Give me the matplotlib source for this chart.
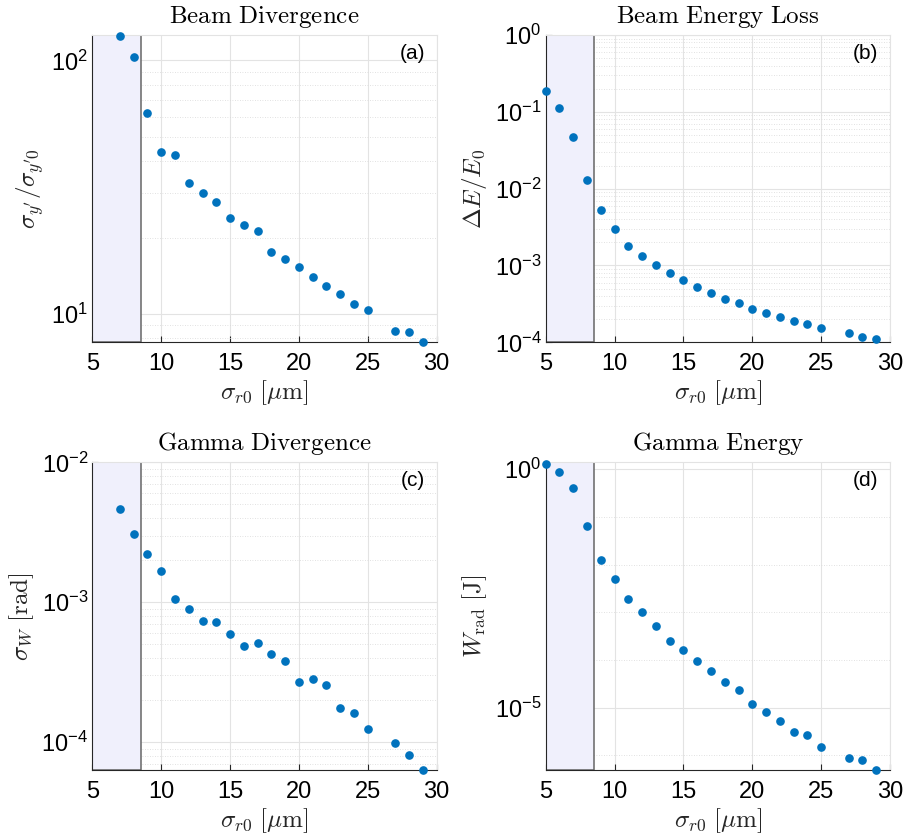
import numpy as np
import matplotlib
matplotlib.use("Agg")
import matplotlib.pyplot as plt
from matplotlib.patches import Rectangle
from matplotlib.ticker import LogLocator, FixedLocator, FuncFormatter, NullFormatter

plt.rcParams['mathtext.fontset'] = 'cm'
plt.rcParams['mathtext.rm'] = 'Liberation Sans'
plt.rcParams['mathtext.it'] = 'Liberation Sans:italic'
plt.rcParams['mathtext.bf'] = 'Liberation Sans:bold'
plt.rcParams['mathtext.sf'] = 'Liberation Sans'
plt.rcParams['font.family'] = ['Liberation Sans', 'DejaVu Sans']

# data (sigma_r0 in um)
x_a = [7, 8, 9, 10, 11, 12, 13, 14, 15, 16, 17, 18, 19, 20, 21, 22, 23, 24, 25, 27, 28, 29]
div_beam = [125, 103, 61.9, 43.7, 42.3, 32.7, 30.0, 27.7, 23.9, 22.4, 21.3, 17.6, 16.5,
            15.3, 14.0, 12.9, 12.0, 10.9, 10.4, 8.55, 8.45, 7.72]

x_b = [5, 6, 7, 8, 9, 10, 11, 12, 13, 14, 15, 16, 17, 18, 19, 20, 21, 22, 23, 24, 25, 27, 28, 29]
eloss = [0.187, 0.112, 0.0476, 0.0130, 5.25e-3, 2.97e-3, 1.77e-3, 1.34e-3, 1.01e-3, 7.87e-4,
         6.51e-4, 5.23e-4, 4.33e-4, 3.69e-4, 3.24e-4, 2.74e-4, 2.40e-4, 2.15e-4, 1.89e-4,
         1.73e-4, 1.53e-4, 1.31e-4, 1.18e-4, 1.10e-4]

x_c = [7, 8, 9, 10, 11, 12, 13, 14, 15, 16, 17, 18, 19, 20, 21, 22, 23, 24, 25, 27, 28, 29]
div_gamma = [4.67e-3, 3.06e-3, 2.20e-3, 1.68e-3, 1.06e-3, 8.96e-4, 7.39e-4, 7.20e-4, 5.97e-4,
             4.88e-4, 5.15e-4, 4.27e-4, 3.79e-4, 2.68e-4, 2.82e-4, 2.55e-4, 1.75e-4, 1.61e-4,
             1.25e-4, 9.89e-5, 8.16e-5, 6.34e-5]

x_d = [5, 6, 7, 8, 9, 10, 11, 12, 13, 14, 15, 16, 17, 18, 19, 20, 21, 22, 23, 24, 25, 27, 28, 29]
w_rad = [1.27, 0.894, 0.412, 0.0648, 0.0125, 5.08e-3, 1.90e-3, 1.02e-3, 5.25e-4, 2.50e-4,
         1.65e-4, 9.38e-5, 5.78e-5, 3.40e-5, 2.31e-5, 1.21e-5, 7.98e-6, 5.25e-6, 3.04e-6,
         2.71e-6, 1.47e-6, 8.93e-7, 8.11e-7, 4.92e-7]

titles = ['Beam Divergence', 'Beam Energy Loss', 'Gamma Divergence', 'Gamma Energy']
ylabels = [r'$\sigma_{y^\prime}/\sigma_{y^\prime 0}$', r'$\Delta E/E_0$',
           r'$\sigma_W\ [\mathrm{rad}]$', r'$W_{\mathrm{rad}}\ [\mathrm{J}]$']
tags = ['(a)', '(b)', '(c)', '(d)']
ylims = [(7.72, 126), (1e-4, 1), (6.34e-5, 1e-2), (4.92e-7, 1.4)]
shade_edge = 8.5

blue = '#0072BD'
W, H = 907, 839
fig = plt.figure(figsize=(W / 100, H / 100), dpi=100)
boxes = [(92.3, 35, 436.7, 342.3), (545.7, 35, 890, 342.3),
         (92.3, 462.3, 436.7, 770), (545.7, 462.3, 890, 770)]

def sup_fmt(v, pos):
    e = int(round(np.log10(v)))
    return r'$10^{%d}$' % e

series = [(x_a, div_beam), (x_b, eloss), (x_c, div_gamma), (x_d, w_rad)]

for i, (xs, ys) in enumerate(series):
    l, t, r, b = boxes[i]
    ax = fig.add_axes([l / W, 1 - b / H, (r - l) / W, (b - t) / H])
    ax.set_yscale('log')
    ax.set_xlim(5, 30)
    ax.set_ylim(*ylims[i])

    ax.add_patch(Rectangle((5, ylims[i][0]), shade_edge - 5, ylims[i][1] - ylims[i][0],
                           facecolor='#f0f0fc', edgecolor='#666666', lw=1.1, zorder=1))
    ax.plot(xs, ys, 'o', color=blue, ms=5.2, mec=blue, zorder=5, clip_on=False)

    ax.set_xticks([5, 10, 15, 20, 25, 30])
    if i == 3:
        ax.yaxis.set_major_locator(FixedLocator([1e-5, 1e0]))
        ax.yaxis.set_minor_locator(FixedLocator([1e-6, 1e-4, 1e-3, 1e-2, 1e-1]))
    else:
        ax.yaxis.set_major_locator(LogLocator(base=10, numticks=10))
        ax.yaxis.set_minor_locator(LogLocator(base=10, subs=np.arange(2, 10), numticks=20))
    ax.yaxis.set_major_formatter(FuncFormatter(sup_fmt))
    ax.yaxis.set_minor_formatter(NullFormatter())

    ax.grid(True, which='major', color='#e3e3e3', lw=0.8, zorder=0)
    ax.grid(True, which='minor', axis='y', color='#d8d8d8', lw=0.6, ls=(0, (1, 2)), zorder=0)
    ax.set_axisbelow(True)

    ax.tick_params(which='both', direction='in', labelsize=17, colors='#262626',
                   length=4, width=0.8, labelcolor='black')
    ax.tick_params(which='minor', length=2)
    ax.tick_params(axis='x', pad=8)
    ax.tick_params(axis='y', pad=3)
    ax.tick_params(axis='y', which='minor', left=(i != 3))
    for lab in ax.get_yticklabels():
        lab.set_math_fontfamily('custom')
    for s in ['top', 'right']:
        ax.spines[s].set_color('#e3e3e3')
        ax.spines[s].set_linewidth(0.8)
    for s in ['left', 'bottom']:
        ax.spines[s].set_color('#262626')
        ax.spines[s].set_linewidth(0.8)

    ax.set_title(r'$\mathrm{%s}$' % titles[i].replace(' ', r'\ '), fontsize=18, pad=9)
    ax.set_xlabel(r'$\sigma_{r0}\ [\mu\mathrm{m}]$', fontsize=18, color='#262626', labelpad=2)
    ax.set_ylabel(ylabels[i], fontsize=18, color='#262626', labelpad=4)
    ax.text(0.966, 0.94, tags[i], transform=ax.transAxes, ha='right', va='center',
            fontsize=15, color='black', zorder=6)

fig.savefig('out.png', dpi=100)
